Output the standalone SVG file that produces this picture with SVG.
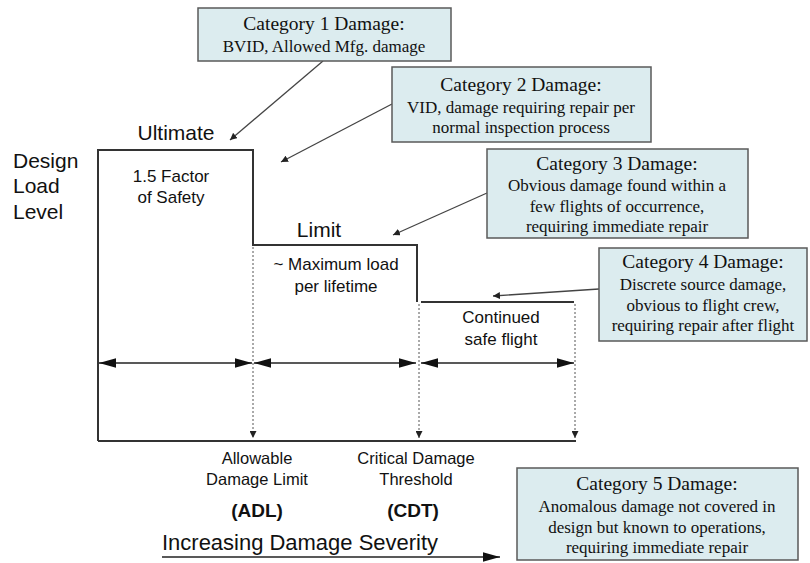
<svg xmlns="http://www.w3.org/2000/svg" width="810" height="563" viewBox="0 0 810 563">
<style>
.box{fill:#dcecef;stroke:#5a5a5a;stroke-width:1.5}
.t{font-family:"Liberation Serif",serif;fill:#111;text-anchor:middle}
.h{font-size:19.5px}
.b{font-size:17px}
.s{font-family:"Liberation Sans",Arial,sans-serif;fill:#111}
.m{text-anchor:middle}
.frame{fill:none;stroke:#333;stroke-width:2}
.dot{stroke:#555;stroke-width:1;stroke-dasharray:2 2;fill:none}
.ptr{stroke:#444;stroke-width:1.3;fill:none}
.dim{stroke:#222;stroke-width:1.5;fill:none}
</style>
<defs>
<marker id="sa" viewBox="0 0 10 10" refX="10" refY="5" markerWidth="7" markerHeight="7" markerUnits="userSpaceOnUse" orient="auto"><path d="M0,0 L10,5 L0,10 z" fill="#222"/></marker>
<marker id="da" viewBox="0 0 10 10" refX="10" refY="5" markerWidth="7" markerHeight="7" markerUnits="userSpaceOnUse" orient="auto"><path d="M0,0 L10,5 L0,10 z" fill="#222"/></marker>
<marker id="big" viewBox="0 0 18 10" refX="18" refY="5" markerWidth="17" markerHeight="10" markerUnits="userSpaceOnUse" orient="auto-start-reverse"><path d="M0,0 L18,5 L0,10 z" fill="#111"/></marker>
</defs>

<g id="chart">
<path class="frame" d="M98,441 L98,150 L253,150 L253,245 L417,245 L417,302"/>
<path class="frame" d="M421,302 L574,302"/>
<path class="frame" d="M98,441 L576,441"/>
</g>

<g id="connectors">
<line class="dot" x1="253" y1="247" x2="253" y2="438" marker-end="url(#da)"/>
<line class="dot" x1="419" y1="304" x2="419" y2="438" marker-end="url(#da)"/>
<line class="dot" x1="575" y1="304" x2="575" y2="438" marker-end="url(#da)"/>
<line class="dim" x1="99" y1="363" x2="252" y2="363" marker-start="url(#big)" marker-end="url(#big)"/>
<line class="dim" x1="254" y1="363" x2="416" y2="363" marker-start="url(#big)" marker-end="url(#big)"/>
<line class="dim" x1="421" y1="363" x2="574" y2="363" marker-start="url(#big)" marker-end="url(#big)"/>
<line class="ptr" x1="323" y1="61" x2="230" y2="140" marker-end="url(#sa)"/>
<line class="ptr" x1="392" y1="104" x2="281" y2="162" marker-end="url(#sa)"/>
<line class="ptr" x1="487" y1="193" x2="393" y2="235" marker-end="url(#sa)"/>
<line class="ptr" x1="599" y1="289" x2="493" y2="296" marker-end="url(#sa)"/>
<line class="dim" x1="162" y1="557" x2="500" y2="557" marker-end="url(#big)"/>
</g>

<g id="labels">
<text class="s" x="13" y="168" font-size="21">Design</text>
<text class="s" x="13" y="193" font-size="21">Load</text>
<text class="s" x="13" y="219" font-size="21">Level</text>
<text class="s m" x="176" y="140" font-size="21">Ultimate</text>
<text class="s m" x="319" y="237" font-size="21">Limit</text>
<text class="s m" x="171" y="182" font-size="17">1.5 Factor</text>
<text class="s m" x="171" y="203" font-size="17">of Safety</text>
<text class="s m" x="336" y="270" font-size="17">~ Maximum load</text>
<text class="s m" x="336" y="292" font-size="17">per lifetime</text>
<text class="s m" x="501" y="323" font-size="17">Continued</text>
<text class="s m" x="501" y="345" font-size="17">safe flight</text>
<text class="s m" x="257" y="464" font-size="16.5">Allowable</text>
<text class="s m" x="257" y="485" font-size="16.5">Damage Limit</text>
<text class="s m" x="257" y="517" font-size="19" font-weight="bold">(ADL)</text>
<text class="s m" x="416" y="464" font-size="16.5">Critical Damage</text>
<text class="s m" x="416" y="485" font-size="16.5">Threshold</text>
<text class="s m" x="413" y="517" font-size="19" font-weight="bold">(CDT)</text>
<text class="s" x="162" y="550" font-size="22" textLength="276" lengthAdjust="spacingAndGlyphs">Increasing Damage Severity</text>
</g>

<g id="cat1">
<rect class="box" x="198" y="8" width="253" height="53"/>
<text class="t h" x="324" y="30">Category 1 Damage:</text>
<text class="t b" x="324" y="52">BVID, Allowed Mfg. damage</text>
</g>
<g id="cat2">
<rect class="box" x="392" y="67" width="259" height="75"/>
<text class="t h" x="521" y="91">Category 2 Damage:</text>
<text class="t b" x="521" y="113">VID, damage requiring repair per</text>
<text class="t b" x="521" y="133">normal inspection process</text>
</g>
<g id="cat3">
<rect class="box" x="487" y="149" width="261" height="89"/>
<text class="t h" x="617" y="170">Category 3 Damage:</text>
<text class="t b" x="617" y="191">Obvious damage found within a</text>
<text class="t b" x="617" y="212">few flights of occurrence,</text>
<text class="t b" x="617" y="232">requiring immediate repair</text>
</g>
<g id="cat4">
<rect class="box" x="599" y="248" width="208" height="93"/>
<text class="t h" x="703" y="268">Category 4 Damage:</text>
<text class="t b" x="703" y="290">Discrete source damage,</text>
<text class="t b" x="703" y="311">obvious to flight crew,</text>
<text class="t b" x="703" y="331">requiring repair after flight</text>
</g>
<g id="cat5">
<rect class="box" x="517" y="468" width="281" height="92"/>
<text class="t h" x="657" y="490">Category 5 Damage:</text>
<text class="t b" x="657" y="512">Anomalous damage not covered in</text>
<text class="t b" x="657" y="533">design but known to operations,</text>
<text class="t b" x="657" y="553">requiring immediate repair</text>
</g>
</svg>
